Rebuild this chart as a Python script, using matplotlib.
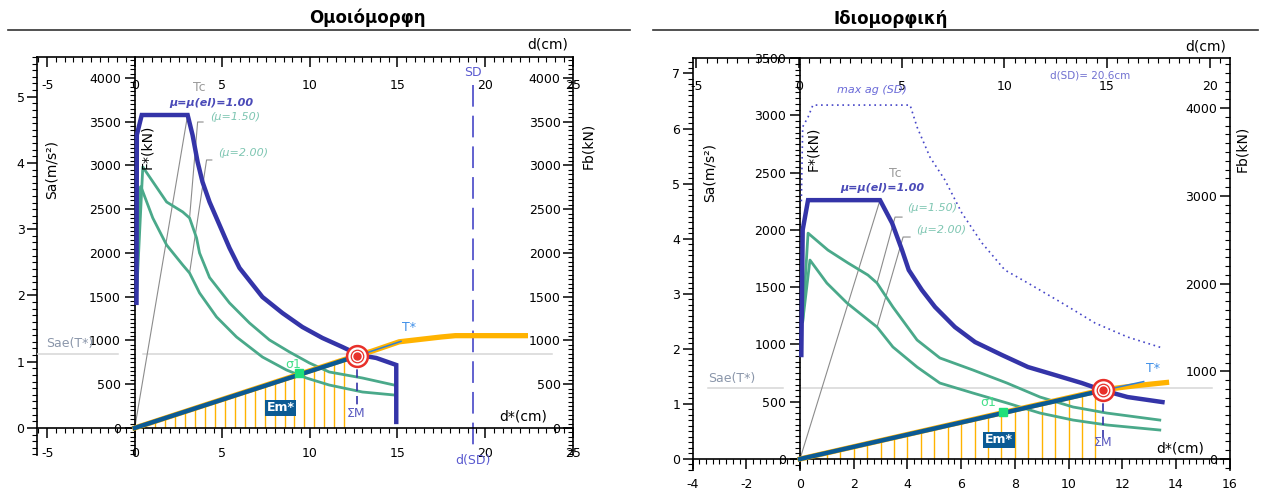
import numpy as np
import matplotlib.pyplot as plt
from matplotlib.ticker import MultipleLocator

plt.rcParams['font.family'] = ['DejaVu Sans']
plt.rcParams['axes.unicode_minus'] = False

# ---------------- Ομοιόμορφη (αριστερά): d* [cm], F* [kN] ----------------
u_el_d = [0.10, 0.12, 0.40, 3.02, 3.30, 3.59, 3.87, 4.27, 4.84, 5.41, 5.98, 7.29, 8.43, 9.57, 10.71, 11.85, 12.82, 13.79, 14.93, 14.93]
u_el_f = [1430, 3350, 3577, 3577, 3349, 3040, 2811, 2583, 2320, 2057, 1829, 1497, 1314, 1154, 1029, 926, 834, 800, 720, 69]
u_m15_d = [0.10, 0.46, 1.82, 2.74, 3.13, 3.53, 3.70, 4.27, 5.41, 6.55, 7.69, 8.83, 9.97, 11.10, 13.00, 14.80]
u_m15_f = [1500, 2983, 2583, 2469, 2400, 2171, 2000, 1720, 1429, 1200, 1006, 869, 743, 640, 571, 491]
u_m20_d = [0.10, 0.28, 0.35, 1.03, 1.82, 2.74, 3.13, 3.70, 4.67, 5.81, 7.29, 8.66, 9.80, 11.10, 13.00, 14.80]
u_m20_f = [1500, 2743, 2760, 2400, 2091, 1863, 1771, 1543, 1269, 1040, 811, 663, 571, 491, 411, 377]
u_cap_d = [0, 12.7, 13.5, 15.1, 17.5, 18.3, 22.3]
u_cap_f = [0, 830, 875, 985, 1040, 1055, 1055]
u_bil_d = [0, 12.7]
u_bil_f = [0, 823]
u_tstar_d = [12.7, 15.2]
u_tstar_f = [823, 990]
u_tc_lines = [([0, 3.02], [0, 3577]),
              ([3.13, 3.59, 3.90], [2400, 3497, 3497]),
              ([3.13, 4.10, 4.40], [1771, 3063, 3063])]
u_pp = (12.7, 823)      # σημείο επιτελεστικότητας ΣM
u_s1 = (9.4, 629)       # σ1
u_sae = 846             # Sae(T*) σε kN
u_sd = 19.3             # d(SD)

# ---------------- Ιδιομορφική (δεξιά) ----------------
i_el_d = [0.05, 0.10, 0.30, 2.98, 3.43, 3.80, 4.05, 4.54, 5.03, 5.77, 6.52, 7.52, 8.49, 9.50, 10.50, 11.25, 12.20, 13.50]
i_el_f = [908, 2000, 2260, 2260, 2060, 1824, 1650, 1475, 1327, 1152, 1021, 908, 803, 733, 663, 602, 541, 497]
i_m15_d = [0.10, 0.30, 1.04, 1.79, 2.53, 2.87, 3.46, 4.36, 5.21, 6.44, 7.71, 8.94, 10.17, 11.43, 13.40]
i_m15_f = [1200, 1972, 1824, 1711, 1606, 1536, 1327, 1039, 882, 777, 663, 541, 454, 401, 340]
i_m20_d = [0.10, 0.37, 1.00, 1.75, 2.87, 3.46, 4.36, 5.21, 6.44, 7.71, 8.94, 10.17, 11.43, 13.40]
i_m20_f = [1200, 1737, 1536, 1362, 1152, 978, 803, 663, 576, 489, 401, 340, 297, 253]
i_sd_d = [0.05, 0.10, 0.30, 0.48, 4.10, 4.36, 4.84, 5.40, 6.03, 6.78, 7.63, 8.49, 9.76, 10.99, 12.20, 13.50]
i_sd_f = [2250, 2900, 2985, 3090, 3090, 2898, 2636, 2435, 2147, 1885, 1650, 1536, 1362, 1187, 1065, 969]
i_cap_d = [0, 11.3, 12.5, 13.65]
i_cap_f = [0, 605, 640, 668]
i_bil_d = [0, 11.3]
i_bil_f = [0, 600]
i_tstar_d = [11.3, 12.8]
i_tstar_f = [600, 676]
i_tc_lines = [([0, 2.98], [0, 2260]),
              ([2.87, 3.54, 3.80], [1536, 2112, 2112]),
              ([2.87, 3.84, 4.10], [1152, 1938, 1938])]
i_pp = (11.3, 600)
i_s1 = (7.56, 410)
i_sae = 620

C_EL = '#3434a8'
C_GR = '#4aa98a'
C_OR = '#ffb300'
C_CAP = '#0b5a94'
C_GRAY = '#8c8c8c'
C_LAB_EL = '#4a4ab8'
C_LAB_GR = '#7ec6b2'

W, H = 1264, 490
fig = plt.figure(figsize=(W / 100, H / 100), dpi=100)


def ftext(x, y, s, **kw):
    fig.text(x / W, 1 - y / H, s, **kw)


def overlay(box):
    x0, y0, x1, y1 = box
    a = fig.add_axes([x0 / W, 1 - y1 / H, (x1 - x0) / W, (y1 - y0) / H], facecolor='none')
    for s in a.spines.values():
        s.set_visible(False)
        s.set_linewidth(1.2)
    a.set_xticks([])
    a.set_yticks([])
    return a


def ticks(a, axis, major, minor, pad):
    loc = a.xaxis if axis == 'x' else a.yaxis
    loc.set_major_locator(MultipleLocator(major))
    loc.set_minor_locator(MultipleLocator(minor))
    a.tick_params(axis=axis, which='major', length=7, width=1.1, labelsize=9, pad=pad)
    a.tick_params(axis=axis, which='minor', length=3.5, width=0.8)


def make_axes(box, xlim, ylim, top_lim, sa_lim, fb_lim, xt, tt, ft, fbt):
    # Sa άξονας (αριστερά)
    sa = overlay(box)
    sa.set_ylim(sa_lim)
    sa.spines['left'].set_visible(True)
    sa.yaxis.set_ticks_position('left')
    ticks(sa, 'y', 1, 0.1, 2)
    # Fb άξονας (δεξιά, ετικέτες εσωτερικά)
    fb = overlay(box)
    fb.set_ylim(fb_lim)
    fb.spines['left'].set_visible(True)
    fb.spines['left'].set_position(('axes', 1.0))
    fb.yaxis.set_ticks_position('left')
    ticks(fb, 'y', fbt[0], fbt[1], 2)
    # d(cm) άξονας (πάνω)
    at = overlay(box)
    at.set_xlim(top_lim)
    at.spines['bottom'].set_visible(True)
    at.spines['bottom'].set_position(('axes', 1.0))
    at.xaxis.set_ticks_position('bottom')
    ticks(at, 'x', tt[0], tt[1], 9)
    # κύριος: d*(cm) - F*(kN)
    ax = overlay(box)
    ax.set_xlim(xlim)
    ax.set_ylim(ylim)
    ax.spines['bottom'].set_visible(True)
    ax.spines['bottom'].set_position(('data', 0))
    ax.spines['left'].set_visible(True)
    ax.spines['left'].set_position(('data', 0))
    ax.xaxis.set_ticks_position('bottom')
    ax.yaxis.set_ticks_position('left')
    ticks(ax, 'x', xt[0], xt[1], 7)
    ticks(ax, 'y', ft[0], ft[1], 3)
    return ax


def draw(ax, el, m15, m20, cap, bil, tstar, tc_lines, pp, s1, sae, xl, hatch_step, hatch_end):
    ax.plot(xl[:2], [sae, sae], color='#d6d6d6', lw=1.1, zorder=1)
    ax.plot(xl[2:], [sae, sae], color='#d6d6d6', lw=1.1, zorder=1)
    for xs, ys in tc_lines:
        ax.plot(xs, ys, color=C_GRAY, lw=0.8, zorder=2)
    hx = np.arange(hatch_step, hatch_end, hatch_step)
    ax.vlines(hx, 0, np.interp(hx, cap[0], cap[1]), color=C_OR, lw=1.0, zorder=2)
    ax.plot(m20[0], m20[1], color=C_GR, lw=2.0, zorder=3)
    ax.plot(m15[0], m15[1], color=C_GR, lw=2.0, zorder=3)
    ax.plot(el[0], el[1], color=C_EL, lw=3.2, zorder=4, solid_joinstyle='miter')
    ax.plot(cap[0], cap[1], color=C_OR, lw=3.8, zorder=4)
    ax.plot(bil[0], bil[1], color=C_CAP, lw=3.2, zorder=5)
    ax.plot(tstar[0], tstar[1], color='#2f7fd8', lw=1.1, zorder=5)
    ax.plot([pp[0], pp[0]], [pp[1], pp[1] * 0.32], color=C_EL, lw=1.2,
            ls=(0, (5, 3)), zorder=5)
    ax.plot(*s1, marker='s', ms=6, color='#1ee07a', zorder=6)
    ax.plot(*pp, marker='o', ms=15, mfc='white', mec='#e8302a', mew=1.8, zorder=7)
    ax.plot(*pp, marker='o', ms=9, mfc='none', mec='#e8302a', mew=0.9, ls='none', zorder=8)
    ax.plot(*pp, marker='o', ms=5, color='#e8302a', zorder=9)


# ---------- αριστερό ----------
axL = make_axes((37, 57, 573, 455), (-5.58, 25.02), (-309, 4240), (-5.58, 25.02),
                (-0.408, 5.60), (-309, 4240), (5, 0.5), (5, 0.5), (500, 50), (500, 50))
draw(axL, (u_el_d, u_el_f), (u_m15_d, u_m15_f), (u_m20_d, u_m20_f), (u_cap_d, u_cap_f),
     (u_bil_d, u_bil_f), (u_tstar_d, u_tstar_f), u_tc_lines, u_pp, u_s1, u_sae,
     (-5.58, -0.97, 0.46, 23.8), 0.57, 12.2)
axL.plot([u_sd, u_sd], [3920, -250], color='#5555cc', lw=1.3, ls=(0, (12, 5)), clip_on=False)
axL.text(u_sd, 4060, 'SD', color='#5a5ad0', fontsize=9, ha='center', va='center')
axL.text(u_sd, -370, 'd(SD)', color='#5a5ad0', fontsize=9, ha='center', va='center')
axL.text(3.7, 3886, 'Tc', color='#9a9a9a', fontsize=9, ha='center', va='center')
axL.text(4.39, 3714, 'μ=μ(el)=1.00', color=C_LAB_EL, fontsize=8, weight='bold', style='italic', ha='center', va='center')
axL.text(4.3, 3554, '(μ=1.50)', color=C_LAB_GR, fontsize=8, style='italic', ha='left', va='center')
axL.text(4.75, 3143, '(μ=2.00)', color=C_LAB_GR, fontsize=8, style='italic', ha='left', va='center')
axL.text(9.06, 720, 'σ1', color='#44e08a', fontsize=9, ha='center', va='center')
axL.text(8.32, 229, 'Em*', color='white', fontsize=9, weight='bold', ha='center', va='center',
         bbox=dict(boxstyle='square,pad=0.15', fc=C_CAP, ec='none'))
axL.text(12.65, 171, 'ΣM', color='#5a5ac0', fontsize=9, ha='center', va='center')
axL.text(15.67, 1143, 'T*', color='#3f8fe8', fontsize=9, ha='center', va='center')
axL.text(-3.7, 971, 'Sae(T*)', color='#8a96aa', fontsize=9, ha='center', va='center')
axL.text(22.2, 126, 'd*(cm)', color='black', fontsize=10, ha='center', va='center')

# ---------- δεξί ----------
axR = make_axes((692.6, 58, 1229.6, 470), (-4.0, 16.0), (-96, 3501), (-5.18, 20.97),
                (-0.2, 7.28), (-125, 4572), (2, 0.25), (5, 0.5), (500, 50), (1000, 100))
draw(axR, (i_el_d, i_el_f), (i_m15_d, i_m15_f), (i_m20_d, i_m20_f), (i_cap_d, i_cap_f),
     (i_bil_d, i_bil_f), (i_tstar_d, i_tstar_f), i_tc_lines, i_pp, i_s1, i_sae,
     (-3.43, -0.63, 0.0, 15.35), 0.5, 11.1)
axR.plot(i_sd_d, i_sd_f, color='#4646c8', lw=1.2, ls=(0, (1, 2.2)), zorder=3)
axR.text(2.68, 3221, 'max ag (SD)', color='#6a6ad8', fontsize=8, style='italic', ha='center', va='center')
axR.text(10.8, 3352, 'd(SD)= 20.6cm', color='#7070d0', fontsize=7.5, ha='center', va='center')
axR.text(3.54, 2496, 'Tc', color='#9a9a9a', fontsize=9, ha='center', va='center')
axR.text(3.05, 2365, 'μ=μ(el)=1.00', color=C_LAB_EL, fontsize=8, weight='bold', style='italic', ha='center', va='center')
axR.text(4.0, 2191, '(μ=1.50)', color=C_LAB_GR, fontsize=8, style='italic', ha='left', va='center')
axR.text(4.34, 1999, '(μ=2.00)', color=C_LAB_GR, fontsize=8, style='italic', ha='left', va='center')
axR.text(7.0, 489, 'σ1', color='#44e08a', fontsize=9, ha='center', va='center')
axR.text(7.41, 166, 'Em*', color='white', fontsize=9, weight='bold', ha='center', va='center',
         bbox=dict(boxstyle='square,pad=0.15', fc=C_CAP, ec='none'))
axR.text(11.28, 148, 'ΣM', color='#5a5ac0', fontsize=9, ha='center', va='center')
axR.text(13.15, 794, 'T*', color='#3f8fe8', fontsize=9, ha='center', va='center')
axR.text(-2.53, 707, 'Sae(T*)', color='#8a96aa', fontsize=9, ha='center', va='center')
axR.text(14.15, 96, 'd*(cm)', color='black', fontsize=10, ha='center', va='center')

# τίτλοι και ετικέτες αξόνων
ftext(367, 18, 'Ομοιόμορφη', fontsize=12, weight='bold', ha='center', va='center')
ftext(891, 19, 'Ιδιομορφική', fontsize=12, weight='bold', ha='center', va='center')
fig.add_artist(plt.Line2D([8 / W, 630 / W], [1 - 30 / H, 1 - 30 / H], color='#333333', lw=1.2))
fig.add_artist(plt.Line2D([653 / W, 1258 / W], [1 - 30 / H, 1 - 30 / H], color='#333333', lw=1.2))
for x, y, s in [(52, 169, 'Sa(m/s²)'), (147, 147, 'F*(kN)'), (588, 146, 'Fb(kN)'),
                (710, 173, 'Sa(m/s²)'), (813, 149, 'F*(kN)'), (1242, 149, 'Fb(kN)')]:
    ftext(x, y, s, fontsize=10, rotation=90, ha='center', va='center')
ftext(548, 45, 'd(cm)', fontsize=10, ha='center', va='center')
ftext(1206, 46, 'd(cm)', fontsize=10, ha='center', va='center')

fig.savefig('out.png', dpi=100)
